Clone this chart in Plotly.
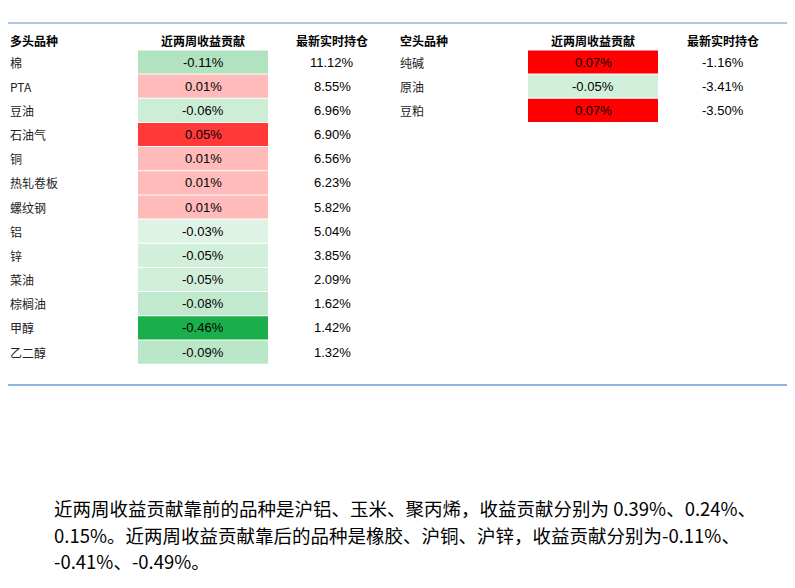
import plotly.graph_objects as go

long_names = ["棉","PTA","豆油","石油气","铜","热轧卷板","螺纹钢","铝","锌","菜油","棕榈油","甲醇","乙二醇"]
long_contrib = [-0.11,0.01,-0.06,0.05,0.01,0.01,0.01,-0.03,-0.05,-0.05,-0.08,-0.46,-0.09]
long_pos = [11.12,8.55,6.96,6.90,6.56,6.23,5.82,5.04,3.85,2.09,1.62,1.42,1.32]
short_names = ["纯碱","原油","豆粕"]
short_contrib = [0.07,-0.05,0.07]
short_pos = [-1.16,-3.41,-3.50]

CJK = "Noto Sans CJK SC"
NUM = "Liberation Sans, " + CJK

def color(v):
    if v < 0:
        t = min(1, -v / 0.46)
        a, b = (247, 252, 248), (26, 175, 75)
    else:
        t = min(1, v / 0.07)
        a, b = (255, 236, 236), (255, 0, 0)
    c = [round(a[i] + (b[i] - a[i]) * (t ** 0.8)) for i in range(3)]
    return "rgb(%d,%d,%d)" % tuple(c)

fig = go.Figure()
shapes, ann = [], []
y0, dy = 62, 24.17

def text(x, y, s, size=13, col="#000", anchor="left", font=CJK, bold=False):
    if bold:
        s = "<b>%s</b>" % s
    ann.append(dict(x=x, y=y, text=s, xref="x", yref="y", showarrow=False, xanchor=anchor,
                    yanchor="middle", font=dict(size=size, color=col, family=font)))

def table(names, contrib, pos, xn, xc0, xc1, xp):
    for i, (n, c, p) in enumerate(zip(names, contrib, pos)):
        y = y0 + i * dy
        shapes.append(dict(type="rect", x0=xc0, x1=xc1, y0=y - dy / 2 + 0.5, y1=y + dy / 2 - 0.5,
                           xref="x", yref="y", fillcolor=color(c), line=dict(width=0), layer="below"))
        text(xn, y, n, 12, "#222")
        text((xc0 + xc1) / 2, y, "%.2f%%" % c, 13, "#000", "center", NUM)
        text(xp, y, "%.2f%%" % p, 13, "#000", "center", NUM)

table(long_names, long_contrib, long_pos, 8, 138, 268, 332)
table(short_names, short_contrib, short_pos, 398, 528, 658, 723)

for x, s, a in [(8, "多头品种", "left"), (203, "近两周收益贡献", "center"), (332, "最新实时持仓", "center"),
                (398, "空头品种", "left"), (593, "近两周收益贡献", "center"), (723, "最新实时持仓", "center")]:
    text(x, 40, s, 12, "#000", a, bold=True)

text(6, 12, "图表21：  商品时序动量模拟组合近两周收益贡献与最新实时持仓", 16, "#000", bold=True)
shapes.append(dict(type="line", x0=6, x1=789, y0=23, y1=23, xref="x", yref="y", line=dict(color="#5b8ec9", width=1)))
shapes.append(dict(type="line", x0=6, x1=789, y0=385, y1=385, xref="x", yref="y", line=dict(color="#8fb4de", width=2)))
text(6, 398, "资料来源：Wind，Bloomberg，华泰研究", 12, "#888")
text(6, 446, "商品截面仓单：组合在 11 月 26 日创 2010 年以来历史新高", 19.5, "#1f4e79", bold=True)
text(6, 478, "商品截面仓单模拟组合近两周上涨 0.08%，今年以来上涨 5.51%：", 18.5, "#000")
text(6, 508, "1.", 18.5, "#000")
text(52, 508, "近两周收益贡献靠前的品种是沪铝、玉米、聚丙烯，收益贡献分别为 0.39%、0.24%、", 18.5, "#000")
text(52, 535, "0.15%。近两周收益贡献靠后的品种是橡胶、沪铜、沪锌，收益贡献分别为-0.11%、", 18.5, "#000")
text(52, 561, "-0.41%、-0.49%。", 18.5, "#000")

fig.update_layout(width=795, height=588, margin=dict(l=0, r=0, t=0, b=0),
                  plot_bgcolor="white", paper_bgcolor="white", shapes=shapes, annotations=ann,
                  xaxis=dict(range=[8, 803], visible=False, fixedrange=True),
                  yaxis=dict(range=[596, 8], visible=False, fixedrange=True), showlegend=False)
fig.write_html("out.html")
